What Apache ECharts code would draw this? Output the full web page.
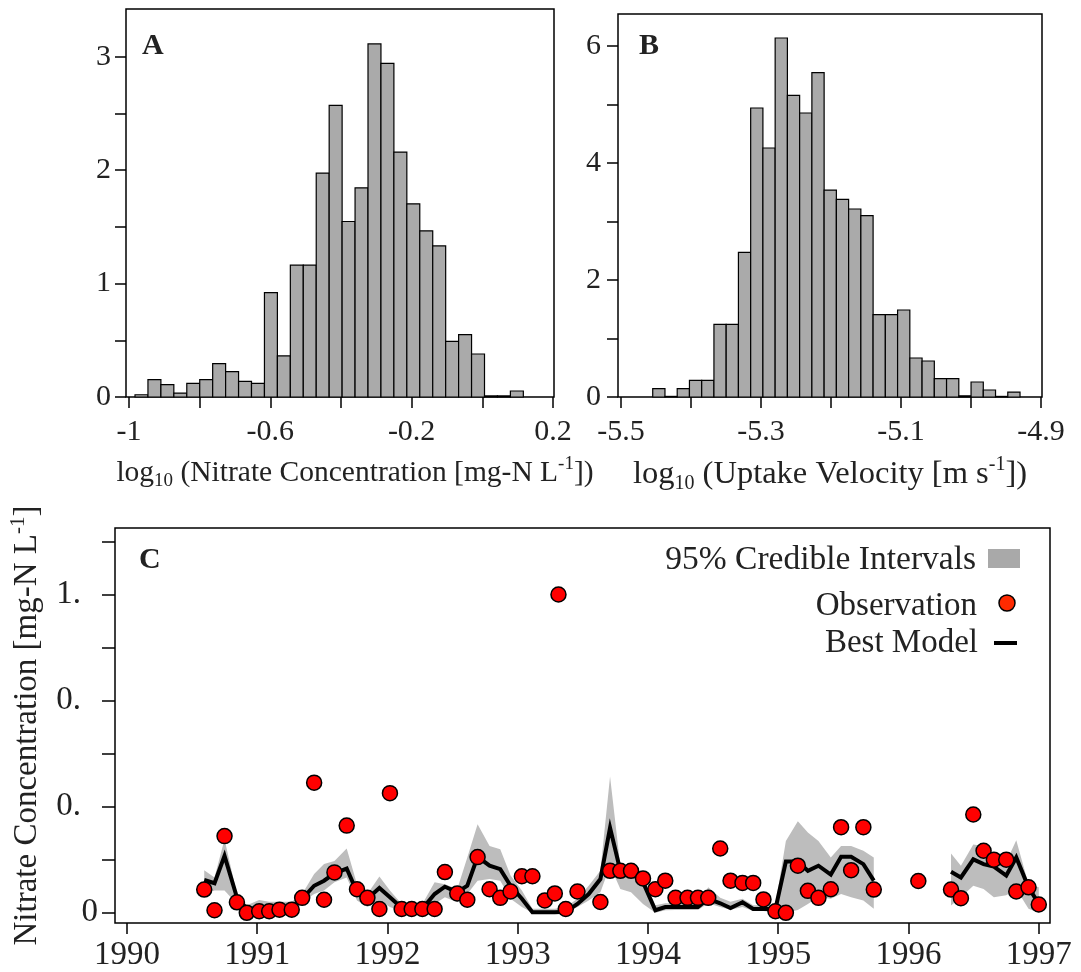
<!DOCTYPE html>
<html>
<head>
<meta charset="utf-8">
<script src="https://cdn.jsdelivr.net/npm/echarts@6/dist/echarts.min.js"></script>
<style>
  html, body { margin: 0; padding: 0; background: #fff; }
  #chart { width: 1081px; height: 972px; }
</style>
</head>
<body>
<div id="chart"></div>
<script>
// ---- Panel A: posterior density of log10 nitrate concentration ----
const nitrateBinStart = -0.983;
const nitrateBinWidth = 0.03664;
const nitrateDensity = [0.02, 0.153, 0.109, 0.035, 0.12, 0.153, 0.294, 0.224, 0.138, 0.12,
  0.92, 0.362, 1.162, 1.162, 1.974, 2.571, 1.547, 1.844, 3.112, 2.941,
  2.159, 1.703, 1.465, 1.332, 0.491, 0.55, 0.379, 0.01, 0.01, 0.053];
const nitrateTicks = [-1, -0.8, -0.6, -0.4, -0.2, 0, 0.2];
const nitrateTickLabels = [-1, -0.6, -0.2, 0.2];
const densityTicksA = [0, 0.5, 1, 1.5, 2, 2.5, 3];
const densityLabelsA = [0, 1, 2, 3];

// ---- Panel B: posterior density of log10 uptake velocity ----
const velocityBinStart = -5.4547;
const velocityBinWidth = 0.01749;
const velocityDensity = [0.142, 0.01, 0.142, 0.285, 0.285, 1.242, 1.242, 2.473, 4.94, 4.256,
  6.137, 5.157, 4.855, 5.544, 3.538, 3.379, 3.214, 3.1, 1.407, 1.407,
  1.487, 0.667, 0.615, 0.313, 0.313, 0.02, 0.256, 0.12, 0.01, 0.085];
const velocityTicks = [-5.5, -5.4, -5.3, -5.2, -5.1, -5.0, -4.9];
const velocityTickLabels = [-5.5, -5.3, -5.1, -4.9];
const densityTicksB = [0, 1, 2, 3, 4, 5, 6];
const densityLabelsB = [0, 2, 4, 6];

// ---- Panel C: observed vs modelled nitrate concentration ----
const obsYear = [1990.593, 1990.672, 1990.749, 1990.844, 1990.920, 1991.015, 1991.092, 1991.171, 1991.265, 1991.345,
  1991.437, 1991.513, 1991.593, 1991.687, 1991.766, 1991.846, 1991.938, 1992.019, 1992.109, 1992.186,
  1992.268, 1992.362, 1992.441, 1992.536, 1992.613, 1992.692, 1992.784, 1992.866, 1992.945, 1993.032,
  1993.113, 1993.208, 1993.285, 1993.313, 1993.369, 1993.459, 1993.635, 1993.709, 1993.788, 1993.870,
  1993.962, 1994.057, 1994.133, 1994.212, 1994.304, 1994.384, 1994.463, 1994.555, 1994.634, 1994.726,
  1994.808, 1994.887, 1994.979, 1995.059, 1995.151, 1995.228, 1995.309, 1995.404, 1995.483, 1995.560,
  1995.654, 1995.734, 1996.076, 1996.327, 1996.403, 1996.498, 1996.577, 1996.656, 1996.751, 1996.828,
  1996.922, 1997.001];
const obsValue = [0.073, 0.008, 0.241, 0.033, 0.0, 0.005, 0.005, 0.01, 0.01, 0.047,
  0.409, 0.041, 0.127, 0.274, 0.074, 0.047, 0.012, 0.376, 0.012, 0.012,
  0.012, 0.012, 0.128, 0.061, 0.041, 0.175, 0.074, 0.047, 0.067, 0.115,
  0.115, 0.039, 0.061, 1.0, 0.012, 0.067, 0.034, 0.132, 0.132, 0.132,
  0.108, 0.074, 0.101, 0.047, 0.047, 0.047, 0.047, 0.202, 0.101, 0.094,
  0.094, 0.042, 0.005, 0.0, 0.148, 0.069, 0.047, 0.074, 0.269, 0.134,
  0.269, 0.073, 0.1, 0.073, 0.046, 0.309, 0.195, 0.167, 0.167, 0.067,
  0.08, 0.026];

// null marks a break in the model run
const modelYear = [1990.593, 1990.672, 1990.749, 1990.844, 1990.920, 1991.015, 1991.092, 1991.171, 1991.265, 1991.345,
  1991.437, 1991.513, 1991.593, 1991.687, 1991.766, 1991.846, 1991.938, 1992.019, 1992.109, 1992.186,
  1992.268, 1992.362, 1992.441, 1992.536, 1992.613, 1992.692, 1992.784, 1992.866, 1992.945, 1993.032,
  1993.113, 1993.208, 1993.285, 1993.369, 1993.459, 1993.545, 1993.635, 1993.709, 1993.788, 1993.870,
  1993.962, 1994.057, 1994.133, 1994.212, 1994.304, 1994.384, 1994.463, 1994.555, 1994.634, 1994.726,
  1994.808, 1994.887, 1994.979, 1995.059, 1995.151, 1995.228, 1995.309, 1995.404, 1995.483, 1995.560,
  1995.654, 1995.734, null,
  1996.327, 1996.403, 1996.498, 1996.577, 1996.656, 1996.751, 1996.828, 1996.922, 1997.001];
const modelBest = [0.103, 0.093, 0.179, 0.049, 0.0125, 0.015, 0.014, 0.014, 0.015, 0.044,
  0.085, 0.101, 0.124, 0.139, 0.065, 0.044, 0.078, 0.049, 0.016, 0.012,
  0.013, 0.059, 0.082, 0.065, 0.085, 0.176, 0.148, 0.137, 0.085, 0.044,
  0.002, 0.002, 0.002, 0.003, 0.028, 0.059, 0.106, 0.267, 0.132, 0.127,
  0.096, 0.008, 0.018, 0.018, 0.018, 0.018, 0.044, 0.030, 0.015, 0.033,
  0.012, 0.012, 0.012, 0.161, 0.161, 0.132, 0.148, 0.12, 0.176, 0.176,
  0.153, 0.101, null,
  0.129, 0.111, 0.168, 0.153, 0.145, 0.117, 0.174, 0.08, 0.028];
const modelLow = [0.059, 0.07, 0.07, 0.028, 0.002, 0.008, 0.008, 0.008, 0.008, 0.033,
  0.059, 0.07, 0.096, 0.111, 0.039, 0.018, 0.039, 0.018, 0.005, 0.002,
  0.002, 0.028, 0.049, 0.033, 0.059, 0.101, 0.106, 0.101, 0.044, 0.018,
  0.0, 0.0, 0.0, 0.0, 0.018, 0.039, 0.065, 0.148, 0.075, 0.065,
  0.028, 0.0, 0.008, 0.009, 0.009, 0.009, 0.03, 0.018, 0.01, 0.018,
  0.006, 0.006, 0.0, 0.0, 0.009, 0.028, 0.049, 0.044, 0.059, 0.049,
  0.039, 0.0125, null,
  0.023, 0.049, 0.085, 0.075, 0.049, 0.055, 0.075, 0.0125, 0.0];
const modelHigh = [0.134, 0.111, 0.231, 0.059, 0.024, 0.04, 0.035, 0.035, 0.035, 0.059,
  0.122, 0.153, 0.163, 0.202, 0.09, 0.059, 0.114, 0.07, 0.028, 0.028,
  0.028, 0.096, 0.09, 0.075, 0.174, 0.278, 0.21, 0.2, 0.117, 0.07,
  0.013, 0.013, 0.013, 0.018, 0.044, 0.085, 0.132, 0.428, 0.148, 0.137,
  0.11, 0.024, 0.03, 0.03, 0.03, 0.03, 0.08, 0.047, 0.035, 0.044,
  0.024, 0.024, 0.028, 0.226, 0.288, 0.252, 0.226, 0.174, 0.21, 0.21,
  0.195, 0.174, null,
  0.186, 0.148, 0.215, 0.21, 0.174, 0.16, 0.228, 0.09, 0.08];

const yearTicks = [1990, 1991, 1992, 1993, 1994, 1995, 1996, 1997];
const concTicks = [0, 1 / 6, 2 / 6, 3 / 6, 4 / 6, 5 / 6, 1, 7 / 6];
const concLabels = [0, 1 / 3, 2 / 3, 1];

// ---------------------------------------------------------------
const FONT = 'Liberation Serif';
const INK = '#222';

function histogramSeries(axisIndex, start, width, heights) {
  return {
    type: 'custom',
    xAxisIndex: axisIndex,
    yAxisIndex: axisIndex,
    data: heights.map((h, i) => [start + i * width, start + (i + 1) * width, h]),
    encode: { x: [0, 1], y: 2 },
    renderItem: function (params, api) {
      const p0 = api.coord([api.value(0), api.value(2)]);
      const p1 = api.coord([api.value(1), 0]);
      return {
        type: 'rect',
        shape: { x: p0[0], y: p0[1], width: p1[0] - p0[0], height: p1[1] - p0[1] },
        style: { fill: '#aaaaaa', stroke: '#000', lineWidth: 1.2 }
      };
    },
    z: 2
  };
}

// split the model run into unbroken stretches
const modelSegments = [];
(function () {
  let cur = [];
  modelYear.forEach((t, i) => {
    if (t === null) { if (cur.length) modelSegments.push(cur); cur = []; }
    else cur.push(i);
  });
  if (cur.length) modelSegments.push(cur);
})();

const tickStyle = { color: '#000', width: 1.5 };

function valueAxis(gridIndex, min, max, ticks, labels, fmt, extra) {
  return Object.assign({
    type: 'value',
    gridIndex: gridIndex,
    min: min,
    max: max,
    splitLine: { show: false },
    axisLine: { show: false, onZero: false },
    axisTick: { show: true, inside: false, length: 11, lineStyle: tickStyle, customValues: ticks },
    axisLabel: {
      show: true, customValues: labels, formatter: fmt,
      fontFamily: FONT, fontSize: 30, color: INK, hideOverlap: false
    }
  }, extra || {});
}

function titleRich(size) {
  const small = Math.round(size * 0.63);
  return {
    t: { fontFamily: FONT, fontSize: size, color: INK, lineHeight: size + 6 },
    sub: { fontFamily: FONT, fontSize: small, color: INK, lineHeight: small + 1, verticalAlign: 'bottom' },
    sup: { fontFamily: FONT, fontSize: small, color: INK, lineHeight: small - 1, verticalAlign: 'top' }
  };
}

const option = {
  animation: false,
  backgroundColor: '#fff',
  grid: [
    { left: 126, top: 9, width: 428, height: 388, show: true, borderColor: '#000', borderWidth: 1.5, backgroundColor: 'transparent' },
    { left: 618, top: 14, width: 424, height: 383, show: true, borderColor: '#000', borderWidth: 1.5, backgroundColor: 'transparent' },
    { left: 114, top: 528, width: 936, height: 398, show: true, borderColor: '#000', borderWidth: 1.5, backgroundColor: 'transparent' }
  ],
  xAxis: [
    valueAxis(0, -1.0085, 0.203, nitrateTicks, nitrateTickLabels, v => String(v), {
      name: '{t|log}{sub|10}{t| (Nitrate Concentration [mg-N L}{sup|-1}{t|])}',
      nameLocation: 'middle', nameGap: 58,
      nameTextStyle: { rich: titleRich(29.5), padding: [0, 0, 0, 30] }
    }),
    valueAxis(1, -5.5043, -4.8986, velocityTicks, velocityTickLabels, v => String(v), {
      name: '{t|log}{sub|10}{t| (Uptake Velocity [m s}{sup|-1}{t|])}',
      nameLocation: 'middle', nameGap: 58,
      nameTextStyle: { rich: titleRich(32.5) }
    }),
    valueAxis(2, 1989.908, 1997.087, yearTicks, yearTicks, v => String(Math.round(v)), {})
  ],
  yAxis: [
    valueAxis(0, 0, 3.42, densityTicksA, densityLabelsA, v => String(v), {}),
    valueAxis(1, 0, 6.547, densityTicksB, densityLabelsB, v => String(v), {}),
    valueAxis(2, -0.032, 1.209, concTicks, concLabels,
      v => (v < 0.01 ? '{z|0}' : (v > 0.99 ? '{p|1.}' : '{p|0.}')), {
        name: '{t|Nitrate Concentration [mg-N L}{sup|-1}{t|]}',
        nameLocation: 'middle', nameGap: 68, nameRotate: 90,
        nameTextStyle: { rich: titleRich(33) }
      })
  ],
  series: [
    histogramSeries(0, nitrateBinStart, nitrateBinWidth, nitrateDensity),
    histogramSeries(1, velocityBinStart, velocityBinWidth, velocityDensity),
    {
      // 95% credible band, one polygon per unbroken stretch
      type: 'custom',
      xAxisIndex: 2, yAxisIndex: 2,
      data: modelSegments.map(seg => [modelYear[seg[0]], modelLow[seg[0]]]),
      renderItem: function (params, api) {
        const seg = modelSegments[params.dataIndex];
        const upper = seg.map(i => api.coord([modelYear[i], modelHigh[i]]));
        const lower = seg.slice().reverse().map(i => api.coord([modelYear[i], modelLow[i]]));
        return {
          type: 'polygon',
          shape: { points: upper.concat(lower) },
          style: { fill: '#bdbdbd', stroke: null }
        };
      },
      z: 1
    }
  ].concat(modelSegments.map(seg => ({
    type: 'line',
    xAxisIndex: 2, yAxisIndex: 2,
    data: seg.map(i => [modelYear[i], modelBest[i]]),
    showSymbol: false,
    lineStyle: { color: '#000', width: 4, join: 'miter' },
    z: 3
  }))).concat([{
    type: 'scatter',
    xAxisIndex: 2, yAxisIndex: 2,
    data: obsYear.map((t, i) => [t, obsValue[i]]),
    symbol: 'circle',
    symbolSize: 15,
    itemStyle: { color: '#ff0000', borderColor: '#000', borderWidth: 1.5, opacity: 1 },
    z: 4
  }]),
  graphic: [
    { type: 'text', left: 142, top: 31, style: { text: 'A', fontFamily: FONT, fontWeight: 'bold', fontSize: 30, fill: INK } },
    { type: 'text', left: 639, top: 31, style: { text: 'B', fontFamily: FONT, fontWeight: 'bold', fontSize: 30, fill: INK } },
    { type: 'text', left: 139, top: 545, style: { text: 'C', fontFamily: FONT, fontWeight: 'bold', fontSize: 30, fill: INK } },
    // key for panel C
    { type: 'text', right: 1081 - 976, top: 543, style: { text: '95% Credible Intervals', fontFamily: FONT, fontSize: 33.5, fill: INK } },
    { type: 'rect', shape: { x: 988, y: 549, width: 32, height: 19 }, style: { fill: '#a9a9a9' } },
    { type: 'text', right: 1081 - 977, top: 590, style: { text: 'Observation', fontFamily: FONT, fontSize: 33, fill: INK } },
    { type: 'circle', shape: { cx: 1007, cy: 603, r: 8 }, style: { fill: '#ff2a00', stroke: '#000', lineWidth: 1.5 } },
    { type: 'text', right: 1081 - 978, top: 627, style: { text: 'Best Model', fontFamily: FONT, fontSize: 33, fill: INK } },
    { type: 'rect', shape: { x: 994, y: 641, width: 23, height: 4 }, style: { fill: '#000' } }
  ]
};

// tick label placement per panel
option.xAxis[0].axisLabel.margin = 20;
option.xAxis[1].axisLabel.margin = 20;
option.xAxis[2].axisLabel.margin = 16;
option.xAxis[2].axisLabel.fontSize = 33;
option.yAxis[0].axisLabel.margin = 15;
option.yAxis[1].axisLabel.margin = 17;
option.yAxis[2].axisLabel.margin = 17;
option.yAxis[2].axisLabel.rich = {
  z: { fontFamily: FONT, fontSize: 33, color: INK },
  p: { fontFamily: FONT, fontSize: 33, color: INK, padding: [0, 17, 0, 0] }
};
option.yAxis[2].axisTick.length = 13;

const chart = echarts.init(document.getElementById('chart'), null, { renderer: 'canvas' });
chart.setOption(option);
</script>
</body>
</html>
